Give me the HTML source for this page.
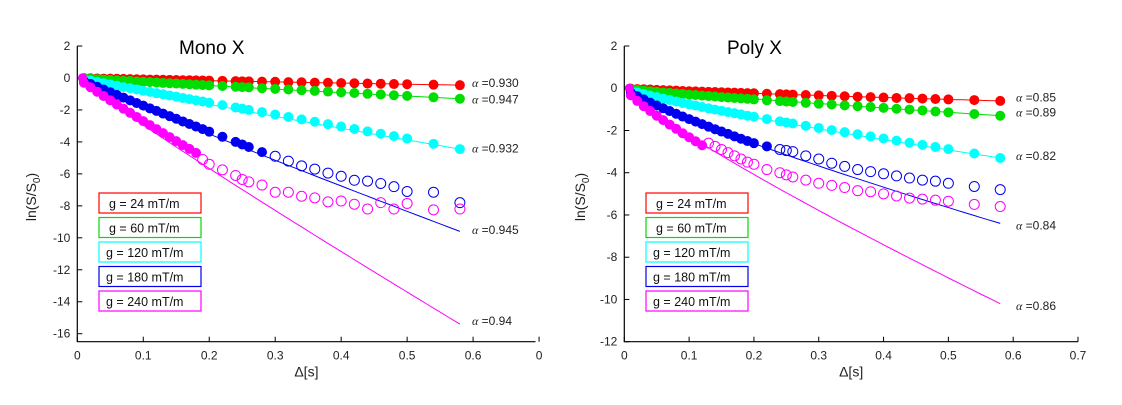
<!DOCTYPE html>
<html><head><meta charset="utf-8"><style>
body{margin:0;background:#fff;}
svg{display:block;font-family:"Liberation Sans",sans-serif;}
</style></head><body>
<svg id="chart" width="1122" height="405" viewBox="0 0 1122 405"></svg>
<script>
const xDense=[0.01,0.02,0.03,0.04,0.05,0.06,0.07,0.08,0.09,0.10,0.11,0.12,0.13,0.14,0.15,0.16,0.17,0.18,0.19,0.20];
const xTail=[0.22,0.24,0.25,0.26,0.28,0.30,0.32,0.34,0.36,0.38,0.40,0.42,0.44,0.46,0.48,0.50,0.54,0.58];
const gradients=["g = 24 mT/m","g = 60 mT/m","g = 120 mT/m","g = 180 mT/m","g = 240 mT/m"];
const colors=["#ff0000","#00dd00","#00ffff","#0000ee","#ff00ff"];
// Mono X values
const monoRed=[-0.01,-0.02,-0.03,-0.04,-0.04,-0.05,-0.06,-0.07,-0.08,-0.09,-0.10,-0.10,-0.11,-0.12,-0.13,-0.14,-0.14,-0.15,-0.16,-0.17,-0.18,-0.20,-0.21,-0.21,-0.23,-0.24,-0.26,-0.27,-0.29,-0.30,-0.32,-0.33,-0.35,-0.36,-0.38,-0.39,-0.42,-0.45];
const monoGreen=[-0.03,-0.05,-0.08,-0.10,-0.12,-0.15,-0.17,-0.19,-0.22,-0.24,-0.26,-0.28,-0.31,-0.33,-0.35,-0.37,-0.39,-0.42,-0.44,-0.46,-0.50,-0.55,-0.57,-0.59,-0.64,-0.68,-0.72,-0.77,-0.81,-0.85,-0.90,-0.94,-0.99,-1.03,-1.08,-1.12,-1.21,-1.30];
const monoCyan=[-0.09,-0.17,-0.25,-0.33,-0.41,-0.49,-0.57,-0.64,-0.72,-0.80,-0.87,-0.95,-1.02,-1.10,-1.17,-1.25,-1.32,-1.40,-1.47,-1.55,-1.70,-1.85,-1.92,-2.00,-2.14,-2.29,-2.44,-2.59,-2.74,-2.89,-3.04,-3.19,-3.34,-3.49,-3.64,-3.79,-4.12,-4.45];
const monoBlue=[-0.19,-0.37,-0.55,-0.72,-0.89,-1.06,-1.23,-1.40,-1.57,-1.73,-1.90,-2.06,-2.23,-2.39,-2.55,-2.72,-2.88,-3.04,-3.20,-3.36,-3.68,-4.00,-4.16,-4.32,-4.64,-4.9,-5.2,-5.5,-5.7,-5.95,-6.15,-6.4,-6.45,-6.6,-6.8,-7.1,-7.15,-7.8];
const monoMagenta=[-0.30,-0.58,-0.86,-1.13,-1.40,-1.66,-1.92,-2.18,-2.44,-2.70,-2.95,-3.20,-3.45,-3.70,-3.95,-4.20,-4.44,-4.69,-5.1,-5.4,-5.75,-6.1,-6.35,-6.5,-6.7,-7.15,-7.15,-7.4,-7.5,-7.75,-7.7,-7.9,-8.2,-7.8,-8.2,-7.85,-8.25,-8.2];
const monoFilledCount=[38,38,38,25,18];
const monoFitEnd=[-0.45,-1.3,-4.45,-9.6,-15.4];
const monoAlpha=["0.930","0.947","0.932","0.945","0.94"];
const monoAlphaY=[-0.3,-1.35,-4.4,-9.5,-15.2];
// Poly X values
const polyRed=[-0.02,-0.04,-0.05,-0.06,-0.08,-0.09,-0.10,-0.11,-0.13,-0.14,-0.15,-0.16,-0.17,-0.18,-0.19,-0.20,-0.21,-0.22,-0.23,-0.24,-0.26,-0.28,-0.29,-0.30,-0.32,-0.34,-0.36,-0.38,-0.40,-0.42,-0.44,-0.46,-0.47,-0.49,-0.51,-0.53,-0.56,-0.60];
const polyGreen=[-0.04,-0.08,-0.11,-0.14,-0.17,-0.20,-0.22,-0.25,-0.27,-0.30,-0.32,-0.35,-0.37,-0.39,-0.42,-0.44,-0.46,-0.48,-0.50,-0.53,-0.57,-0.61,-0.63,-0.65,-0.69,-0.73,-0.77,-0.81,-0.85,-0.89,-0.93,-0.97,-1.01,-1.05,-1.10,-1.14,-1.22,-1.30];
const polyCyan=[-0.11,-0.20,-0.28,-0.35,-0.42,-0.49,-0.56,-0.63,-0.70,-0.76,-0.82,-0.89,-0.95,-1.01,-1.07,-1.13,-1.18,-1.24,-1.30,-1.35,-1.46,-1.57,-1.62,-1.67,-1.78,-1.88,-1.98,-2.08,-2.18,-2.28,-2.38,-2.48,-2.58,-2.68,-2.78,-2.88,-3.09,-3.30];
const polyBlue=[-0.21,-0.38,-0.53,-0.68,-0.82,-0.95,-1.08,-1.21,-1.34,-1.46,-1.58,-1.70,-1.82,-1.94,-2.05,-2.16,-2.28,-2.39,-2.50,-2.60,-2.75,-2.9,-2.95,-3.0,-3.2,-3.35,-3.55,-3.7,-3.85,-3.95,-4.05,-4.15,-4.25,-4.35,-4.4,-4.5,-4.65,-4.8];
const polyMagenta=[-0.33,-0.60,-0.85,-1.08,-1.30,-1.51,-1.72,-1.92,-2.13,-2.32,-2.51,-2.70,-2.6,-2.75,-2.9,-3.05,-3.2,-3.35,-3.5,-3.6,-3.85,-4.0,-4.1,-4.2,-4.35,-4.5,-4.6,-4.7,-4.85,-4.9,-5.0,-5.1,-5.2,-5.25,-5.3,-5.35,-5.5,-5.6];
const polyFilledCount=[38,38,38,21,12];
const polyFitEnd=[-0.6,-1.3,-3.3,-6.4,-10.2];
const polyAlpha=["0.85","0.89","0.82","0.84","0.86"];
const polyAlphaY=[-0.45,-1.15,-3.2,-6.5,-10.3];
const fitAlpha=[[0.93,0.947,0.932,0.945,0.94],[0.85,0.89,0.82,0.84,0.86]];
const monoYTicks=[2,0,-2,-4,-6,-8,-10,-12,-14,-16];
const polyYTicks=[2,0,-2,-4,-6,-8,-10,-12];
const monoXTicks=[0,0.1,0.2,0.3,0.4,0.5,0.6,0.7];
const monoXLabels=["0","0.1","0.2","0.3","0.4","0.5","0.6","0"];
const polyXTicks=[0,0.1,0.2,0.3,0.4,0.5,0.6,0.7];
const polyXLabels=["0","0.1","0.2","0.3","0.4","0.5","0.6","0.7"];

const NS="http://www.w3.org/2000/svg";
const svg=document.getElementById('chart');
function mk(tag,attrs,parent){const e=document.createElementNS(NS,tag);for(const k in attrs)e.setAttribute(k,attrs[k]);(parent||svg).appendChild(e);return e;}
const xs=xDense.concat(xTail);

function panel(cfg){
  const g=mk('g',{});
  
  
  const X=v=>cfg.x0+(v-cfg.xmin)/(cfg.xmax-cfg.xmin)*(cfg.x1-cfg.x0);
  const Y=v=>cfg.y0+(cfg.ymax-v)/(cfg.ymax-cfg.ymin)*(cfg.y1-cfg.y0);
  const ax=mk('path',{d:`M${cfg.x0},${cfg.y0} V${cfg.y1} H${cfg.x1}`,fill:'none',stroke:'#000','stroke-width':1.2},g);
  
  
  cfg.yTicks.forEach(t=>{
    mk('line',{x1:cfg.x0,x2:cfg.x0+5,y1:Y(t),y2:Y(t),stroke:'#000'},g);
    const tx=mk('text',{x:cfg.x0-7,y:Y(t)+4,'text-anchor':'end','font-size':12,fill:'#222'},g);
    tx.textContent=t;
    
    
  });
  cfg.xTicks.forEach((t,i)=>{
    mk('line',{x1:X(t),x2:X(t),y1:cfg.y1,y2:cfg.y1-5,stroke:'#000'},g);
    const tx=mk('text',{x:X(t),y:cfg.y1+18,'text-anchor':'middle','font-size':12,fill:'#222'},g);
    tx.textContent=cfg.xLabels[i];
    
    
  });
  const xl=mk('text',{x:(cfg.x0+cfg.x1)/2,y:cfg.y1+35,'text-anchor':'middle','font-size':14,fill:'#222'},g);
  xl.textContent='Δ[s]';
  
  
  const yl=mk('text',{x:0,y:0,'text-anchor':'middle','font-size':14,fill:'#222',transform:`translate(${cfg.ylx},197) rotate(-90)`},g);
  yl.innerHTML='ln(S/S<tspan font-size="10" dy="4">0</tspan><tspan dy="-4">)</tspan>';
  
  
  const ti=mk('text',{x:cfg.titleX,y:54,'font-size':19,fill:'#000'},g);
  ti.textContent=cfg.title;
  
  
  cfg.series.forEach((vals,s)=>{
    let d='';
    for(let i=0;i<=60;i++){const x=0.005+(0.58-0.005)*i/60;const y=cfg.fitEnd[s]*Math.pow(x/0.58,cfg.alpha[s]);d+=(i?'L':'M')+X(x).toFixed(1)+','+Y(y).toFixed(1);}
    const fl=mk('path',{d:d,fill:'none',stroke:colors[s],'stroke-width':1},g);
    
    
    const st=mk('circle',{cx:X(0.008),cy:Y(0),r:4.5,fill:colors[s]},g);
    
    
    vals.forEach((v,i)=>{
      const filled=i<cfg.filled[s];
      const c=mk('circle',{cx:X(xs[i]),cy:Y(v),r:filled?4.5:5,fill:filled?colors[s]:'none',stroke:colors[s],'stroke-width':1},g);
      
      
    });
    const at=mk('text',{x:cfg.alphaX,y:Y(cfg.alphaY[s])+4,'font-size':12,fill:'#222'},g);
    at.innerHTML='<tspan font-family="Liberation Serif" font-style="italic">α</tspan> ='+cfg.alphaLabels[s];
    
    
    const by=193+s*24.5;
    const lb=mk('rect',{x:cfg.legX,y:by,width:102,height:20,fill:'#fff',stroke:colors[s],'stroke-width':1.2},g);
    
    
    const lt=mk('text',{x:cfg.legX+(s<2?10:7),y:by+15,'font-size':12.5,fill:'#111'},g);
    lt.textContent=gradients[s];
    
    
  });
}
panel({name:'mono-x-chart',title:'Mono X',titleX:179,x0:77.3,x1:535.5,xmin:0,xmax:0.6946,y0:46,y1:341.7,ymax:2,ymin:-16.5,
  yTicks:monoYTicks,xTicks:monoXTicks,xLabels:monoXLabels,ylx:36,series:[monoRed,monoGreen,monoCyan,monoBlue,monoMagenta],
  filled:monoFilledCount,fitEnd:monoFitEnd,alpha:fitAlpha[0],alphaLabels:monoAlpha,alphaY:monoAlphaY,alphaX:472,legX:99});
panel({name:'poly-x-chart',title:'Poly X',titleX:727,x0:624.3,x1:1078,xmin:0,xmax:0.7,y0:46,y1:341.7,ymax:2,ymin:-12,
  yTicks:polyYTicks,xTicks:polyXTicks,xLabels:polyXLabels,ylx:585,series:[polyRed,polyGreen,polyCyan,polyBlue,polyMagenta],
  filled:polyFilledCount,fitEnd:polyFitEnd,alpha:fitAlpha[1],alphaLabels:polyAlpha,alphaY:polyAlphaY,alphaX:1016,legX:646});
</script>
</body></html>
